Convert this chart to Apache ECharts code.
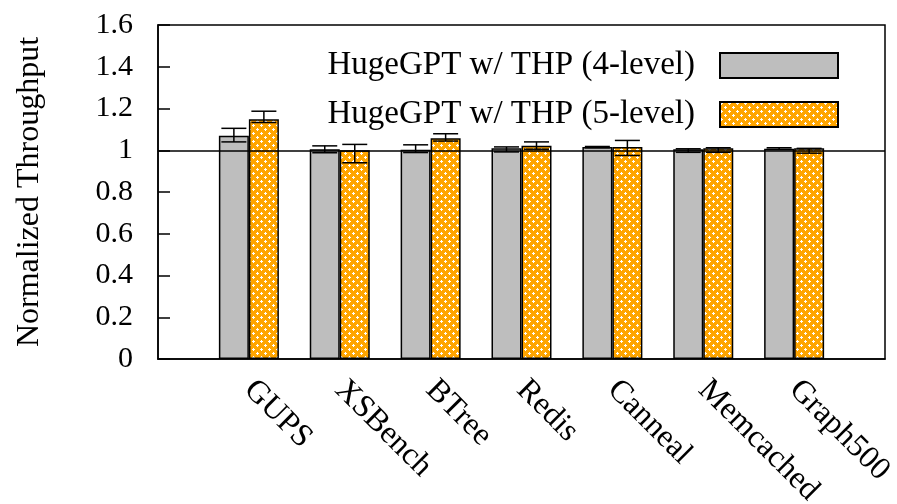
<!DOCTYPE html>
<html>
<head>
<meta charset="utf-8">
<script src="https://cdn.jsdelivr.net/npm/echarts@6/dist/echarts.min.js"></script>
<style>html,body{margin:0;padding:0;background:#fff}#c{width:897px;height:504px}</style>
</head>
<body>
<div id="c"></div>
<script>
const categories = ['GUPS', 'XSBench', 'BTree', 'Redis', 'Canneal', 'Memcached', 'Graph500'];
const seriesNames = ['HugeGPT w/ THP (4-level)', 'HugeGPT w/ THP (5-level)'];
const level4 = [1.07, 1.005, 1.002, 1.009, 1.015, 1.005, 1.007];
const level4Low = [1.040, 0.988, 0.989, 0.992, 1.012, 0.990, 1.004];
const level4High = [1.105, 1.021, 1.026, 1.016, 1.018, 1.007, 1.012];
const level5 = [1.148, 1.0, 1.057, 1.021, 1.016, 1.009, 1.009];
const level5Low = [1.133, 0.940, 1.044, 1.005, 0.975, 0.990, 0.986];
const level5High = [1.187, 1.028, 1.079, 1.040, 1.047, 1.012, 1.009];
const yTicks = { min: 0, max: 1.6, interval: 0.2 };
const refLine = 1;

const FONT = 'Liberation Serif';
const BAR_W = 30;

// orange pattern with white pluses
function makePattern() {
  const c = document.createElement('canvas');
  c.width = 8; c.height = 8;
  const g = c.getContext('2d');
  g.fillStyle = '#FFA500';
  g.fillRect(0, 0, 8, 8);
  g.fillStyle = '#ffffff';
  const plus = (x, y) => {
    g.fillRect(x - 1, y, 3, 1);
    g.fillRect(x, y - 1, 1, 3);
  };
  plus(1, 1); plus(5, 5);
  return c;
}
const pattern = { image: makePattern(), repeat: 'repeat' };

const axisCats = [''].concat(categories, ['']);
const pad = arr => ['-'].concat(arr, ['-']);
const errData = (lo, hi) => lo.map((l, i) => [i + 1, l, hi[i]]);

function errRender(offset) {
  return function (params, api) {
    const x = api.value(0);
    const p1 = api.coord([x, api.value(1)]);
    const p2 = api.coord([x, api.value(2)]);
    const cx = p1[0] + offset;
    const hw = 12.5;
    const st = { stroke: '#000', lineWidth: 1.5 };
    return {
      type: 'group',
      children: [
        { type: 'line', shape: { x1: cx, y1: p1[1], x2: cx, y2: p2[1] }, style: st },
        { type: 'line', shape: { x1: cx - hw, y1: p1[1], x2: cx + hw, y2: p1[1] }, style: st },
        { type: 'line', shape: { x1: cx - hw, y1: p2[1], x2: cx + hw, y2: p2[1] }, style: st }
      ]
    };
  };
}

const chart = echarts.init(document.getElementById('c'), null, { renderer: 'canvas' });
chart.setOption({
  animation: false,
  backgroundColor: '#fff',
  textStyle: { fontFamily: FONT },
  grid: {
    left: 158, right: 12, top: 25, bottom: 145,
    outerBoundsMode: 'none',
    containLabel: false,
    show: true, borderColor: '#000', borderWidth: 1.5, backgroundColor: 'transparent'
  },
  legend: {
    data: seriesNames,
    orient: 'vertical',
    right: 53,
    top: 44,
    align: 'right',
    icon: 'rect',
    itemWidth: 118,
    itemHeight: 25,
    itemGap: 16,
    selectedMode: false,
    textStyle: { fontFamily: FONT, fontSize: 33, lineHeight: 25, color: '#000', padding: [0, 20, 0, 0] }
  },
  xAxis: {
    type: 'category',
    data: axisCats,
    boundaryGap: false,
    axisLine: { show: true, lineStyle: { color: '#000', width: 1.5 } },
    axisTick: { show: false },
    splitLine: { show: false },
    axisLabel: {
      interval: 0,
      rotate: -45,
      align: 'left',
      verticalAlign: 'middle',
      margin: 26,
      padding: [21, 0, 0, 0],
      fontFamily: FONT,
      fontSize: 32,
      color: '#000'
    }
  },
  yAxis: {
    type: 'value',
    min: yTicks.min,
    max: yTicks.max,
    interval: yTicks.interval,
    name: 'Normalized Throughput',
    nameLocation: 'middle',
    nameGap: 112,
    nameRotate: 90,
    nameTextStyle: { fontFamily: FONT, fontSize: 32, color: '#000' },
    axisLine: { show: true, lineStyle: { color: '#000', width: 1.5 } },
    axisTick: { show: true, inside: true, length: 12, lineStyle: { color: '#000', width: 1.5 } },
    splitLine: { show: false },
    axisLabel: { margin: 25, fontFamily: FONT, fontSize: 30, color: '#000' }
  },
  series: [
    {
      name: seriesNames[0],
      type: 'bar',
      data: pad(level4),
      barWidth: BAR_W,
      barGap: '0%',
      itemStyle: { color: '#BEBEBE', borderColor: '#000', borderWidth: 1.5 },
      markLine: {
        silent: true,
        symbol: 'none',
        label: { show: false },
        lineStyle: { color: '#000', width: 1.5, type: 'solid' },
        data: [{ yAxis: refLine }]
      },
      z: 2
    },
    {
      name: seriesNames[1],
      type: 'bar',
      data: pad(level5),
      barWidth: BAR_W,
      barGap: '0%',
      itemStyle: { color: pattern, borderColor: '#000', borderWidth: 1.5 },
      z: 2
    },
    {
      type: 'custom',
      renderItem: errRender(-BAR_W / 2),
      data: errData(level4Low, level4High),
      z: 5,
      silent: true
    },
    {
      type: 'custom',
      renderItem: errRender(BAR_W / 2),
      data: errData(level5Low, level5High),
      z: 5,
      silent: true
    }
  ]
});
</script>
</body>
</html>
